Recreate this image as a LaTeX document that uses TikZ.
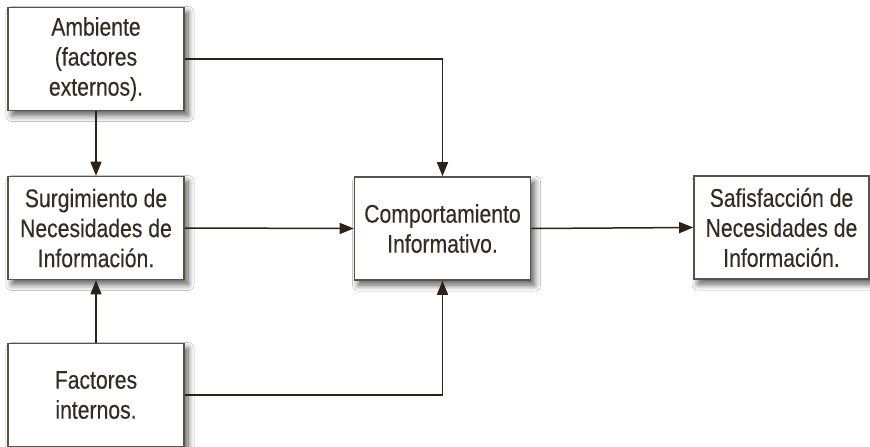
\documentclass[tikz,border=0pt]{standalone}
\usepackage{fontspec}
\setmainfont{Liberation Sans}[FakeStretch=0.83,FakeBold=0.25]
\usetikzlibrary{arrows.meta,shadows.blur}
\definecolor{txt}{HTML}{342C22}
\definecolor{boxc}{HTML}{5A5247}
\definecolor{linec}{HTML}{2A2218}
\begin{document}
\begin{tikzpicture}[x=1pt,y=-1pt,
  box/.style={draw=boxc, line width=1.6pt, fill=white, minimum width=176pt,
    minimum height=103pt, align=center, inner sep=0pt,
    font=\fontsize{25.5}{30}\selectfont, text=txt,
    blur shadow={shadow xshift=4pt, shadow yshift=-5pt, shadow blur steps=10,
      shadow blur radius=6pt, shadow opacity=65}},
  conn/.style={draw=linec, line width=1.5pt, -{Triangle[length=14pt,width=11pt]}}]
\useasboundingbox (0,0) rectangle (870,447);
\fill[white] (0,0) rectangle (870,447);
\node[box] (amb) at (96,59) {Ambiente\\(factores\\externos).};
\node[box] (surg) at (96,228) {Surgimiento de\\Necesidades de\\Información.};
\node[box] (comp) at (442.5,228.5) {Comportamiento\\Informativo.};
\node[box, minimum width=175pt] (sat) at (781.5,227.5) {Safisfacción de\\Necesidades de\\Información.};
\node[box] (fac) at (96,395) {Factores\\internos.};
\draw[conn] (amb.east) -| (comp.north);
\draw[conn] (amb.south) -- (surg.north);
\draw[conn] (fac.north) -- (surg.south);
\draw[conn] (fac.east) -| (comp.south);
\draw[conn] (surg.east) -- (comp.west);
\draw[conn] (comp.east) -- (sat.west);
\end{tikzpicture}
\end{document}
